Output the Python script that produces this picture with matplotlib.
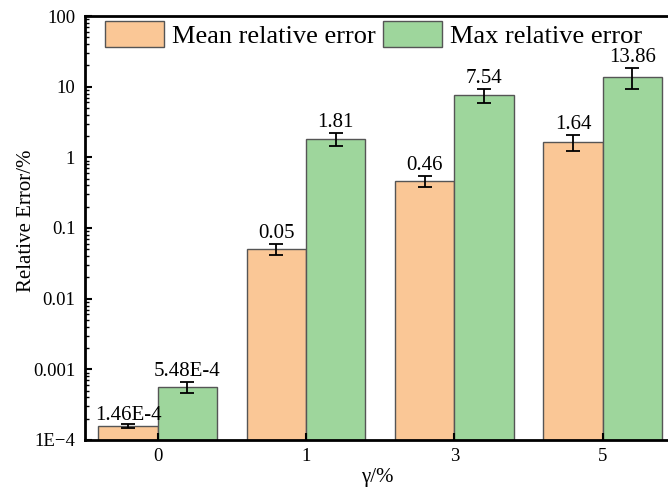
import numpy as np
import matplotlib.pyplot as plt
from matplotlib.ticker import FixedLocator, FixedFormatter, LogLocator

plt.rcParams['font.family'] = ['Liberation Serif', 'DejaVu Serif']

# dados
gamma = ['0', '1', '3', '5']
media = [1.46e-4, 0.05, 0.46, 1.64]
media_err = [1.0e-5, 0.009, 0.08, 0.43]
maximo = [5.48e-4, 1.81, 7.54, 13.86]
maximo_err = [1.0e-4, 0.37, 1.7, 4.5]
rot_media = ['1.46E-4', '0.05', '0.46', '1.64']
rot_maximo = ['5.48E-4', '1.81', '7.54', '13.86']

y_ticks = [1e-4, 1e-3, 1e-2, 1e-1, 1, 10, 100]
y_rotulos = ['1E\u22124', '0.001', '0.01', '0.1', '1', '10', '100']

fig = plt.figure(figsize=(6.68, 4.88), dpi=100)
ax = fig.add_axes([85 / 668, 48 / 488, 1 - 85 / 668 + 0.002, 424 / 488])

x = np.arange(len(gamma))
w = 0.4
err_kw = dict(ecolor='black', capsize=5, elinewidth=1.3, capthick=1.3)

ax.bar(x - w / 2, media, w, bottom=1e-5, color='#FAC796', edgecolor='#555555',
       linewidth=1, yerr=media_err, error_kw=err_kw, label='Mean relative error')
ax.bar(x + w / 2, maximo, w, bottom=1e-5, color='#9ED69C', edgecolor='#555555',
       linewidth=1, yerr=maximo_err, error_kw=err_kw, label='Max relative error')

for i in range(len(gamma)):
    ax.annotate(rot_media[i], (x[i] - w / 2, media[i] + media_err[i]),
                xytext=(0, 1), textcoords='offset points', ha='center', va='bottom', fontsize=15)
    ax.annotate(rot_maximo[i], (x[i] + w / 2, maximo[i] + maximo_err[i]),
                xytext=(0, 1), textcoords='offset points', ha='center', va='bottom', fontsize=15)

ax.set_yscale('log')
ax.set_ylim(1e-4, 100)
ax.set_xlim(-0.49, 3.45)
ax.yaxis.set_major_locator(FixedLocator(y_ticks))
ax.yaxis.set_major_formatter(FixedFormatter(y_rotulos))
ax.yaxis.set_minor_locator(LogLocator(base=10, subs=np.arange(2, 10)))
ax.set_xticks(x)
ax.set_xticklabels(gamma)

ax.tick_params(axis='both', which='major', direction='in', length=5, width=1.5, labelsize=13.5)
ax.tick_params(axis='y', which='major', pad=7)
ax.tick_params(axis='x', which='major', pad=6)
ax.tick_params(axis='y', which='minor', direction='in', length=3, width=1)
for lado in ['left', 'bottom', 'top']:
    ax.spines[lado].set_linewidth(2)
ax.spines['right'].set_visible(False)

ax.set_ylabel('Relative Error/%', fontsize=15)
ax.yaxis.set_label_coords(-0.084, 0.517)
ax.set_xlabel('\u03b3/%', fontsize=15, labelpad=2)

ax.legend(loc='upper left', bbox_to_anchor=(0.0, 1.035), ncol=2, frameon=False, fontsize=19,
          handlelength=2.23, handleheight=1.15, handletextpad=0.3, columnspacing=0.3,
          borderaxespad=0.36)

plt.savefig('out.png', dpi=100)
